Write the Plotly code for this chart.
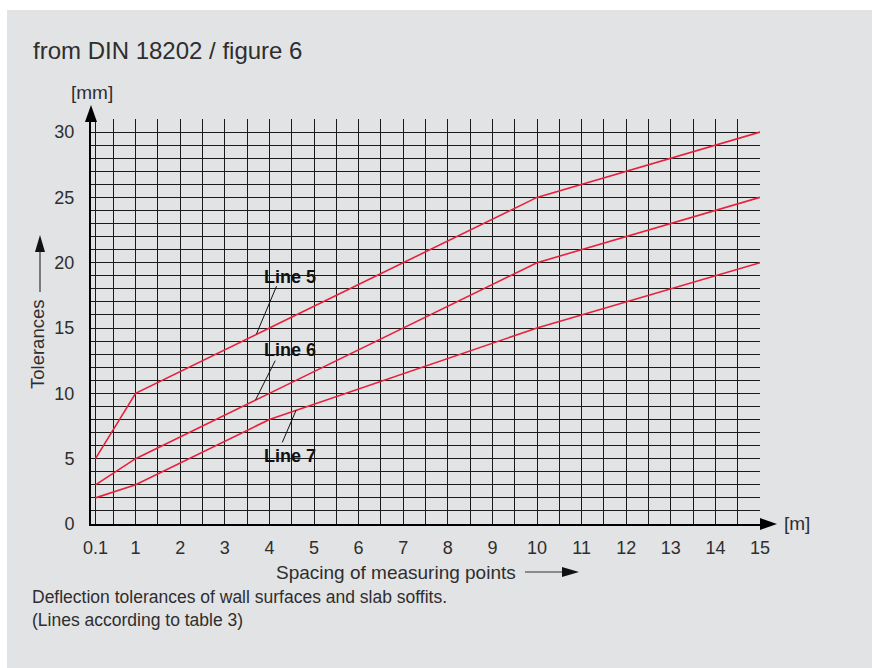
import plotly.graph_objects as go

# ---- data (DIN 18202, figure 6) ----
spacing_m = [0.1, 1, 4, 10, 15]
line5_mm = [5, 10, 15, 25, 30]
line6_mm = [3, 5, 10, 20, 25]
line7_mm = [2, 3, 8, 15, 20]
series_names = ["Line 5", "Line 6", "Line 7"]
x_tick_vals = [0.1, 1, 2, 3, 4, 5, 6, 7, 8, 9, 10, 11, 12, 13, 14, 15]
x_tick_text = ["0.1", "1", "2", "3", "4", "5", "6", "7", "8", "9", "10", "11", "12", "13", "14", "15"]
y_tick_vals = [0, 5, 10, 15, 20, 25, 30]

W, H = 872, 668
ML, MR, MT, MB = 91, 112, 119, 144
PW, PH = W - ML - MR, H - MT - MB
RED = "#e8203c"
GRID = "#1a1a1a"
BG = "#e2e3e5"
TXT = "#2e2e2e"
FONT = "Liberation Sans, Arial, sans-serif"


def px(xp):
    return (xp - ML) / PW


def py(yp):
    return 1 - (yp - MT) / PH


def tri(pts):
    return "M " + " L ".join(f"{px(a):.5f},{py(b):.5f}" for a, b in pts) + " Z"


fig = go.Figure()
for name, vals in zip(series_names, [line5_mm, line6_mm, line7_mm]):
    fig.add_trace(go.Scatter(x=spacing_m, y=vals, mode="lines", name=name,
                             line=dict(color=RED, width=1.6), hoverinfo="skip"))

head = dict(type="path", xref="paper", yref="paper", line=dict(width=0), layer="above")
shapes = [
    # white page border strips
    dict(type="rect", xref="paper", yref="paper", x0=px(0), x1=px(7), y0=py(H), y1=py(0),
         fillcolor="white", line=dict(width=0), layer="above"),
    dict(type="rect", xref="paper", yref="paper", x0=px(0), x1=px(W), y0=py(10), y1=py(0),
         fillcolor="white", line=dict(width=0), layer="above"),
    # y axis extension + arrowhead
    dict(type="line", xref="paper", yref="paper", x0=0, x1=0, y0=1, y1=py(112),
         line=dict(color="black", width=2)),
    dict(head, path=tri([(85, 122), (91, 105), (97, 122)]), fillcolor="black"),
    # x axis arrowhead
    dict(head, path=tri([(760, 518), (777, 524), (760, 530)]), fillcolor="black"),
    # axis-title arrows
    dict(type="line", xref="paper", yref="paper", x0=px(40), x1=px(40), y0=py(292), y1=py(250),
         line=dict(color="#333", width=1.2)),
    dict(head, path=tri([(35, 252), (40, 235), (45, 252)]), fillcolor="#111"),
    dict(type="line", xref="paper", yref="paper", x0=px(525), x1=px(564), y0=py(572), y1=py(572),
         line=dict(color="#333", width=1.2)),
    dict(head, path=tri([(562, 567), (579, 572), (562, 577)]), fillcolor="#111"),
    # leader lines for labels
    dict(type="line", x0=4.16, y0=18.2, x1=3.71, y1=14.55, line=dict(color="#111", width=1)),
    dict(type="line", x0=4.13, y0=12.5, x1=3.69, y1=9.5, line=dict(color="#111", width=1)),
    dict(type="line", x0=4.6, y0=8.72, x1=4.29, y1=6.25, line=dict(color="#111", width=1)),
]

annotations = [
    dict(text="from DIN 18202 / figure 6", xref="paper", yref="paper", x=px(31), y=py(50),
         xanchor="left", yanchor="middle", showarrow=False, font=dict(size=24, color=TXT, family=FONT)),
    dict(text="[mm]", xref="paper", yref="paper", x=px(69), y=py(92),
         xanchor="left", yanchor="middle", showarrow=False, font=dict(size=19, color=TXT, family=FONT)),
    dict(text="[m]", xref="paper", yref="paper", x=px(782), y=py(523),
         xanchor="left", yanchor="middle", showarrow=False, font=dict(size=19, color=TXT, family=FONT)),
    dict(text="Tolerances", xref="paper", yref="paper", x=px(37), y=py(345), textangle=-90,
         xanchor="center", yanchor="middle", showarrow=False, font=dict(size=18.5, color=TXT, family=FONT)),
    dict(text="Spacing of measuring points", xref="paper", yref="paper", x=px(518), y=py(572),
         xanchor="right", yanchor="middle", showarrow=False, font=dict(size=19, color=TXT, family=FONT)),
    dict(text="Deflection tolerances of wall surfaces and slab soffits.<br>(Lines according to table 3)",
         xref="paper", yref="paper", x=px(30), y=py(585), align="left",
         xanchor="left", yanchor="top", showarrow=False, font=dict(size=17.5, color=TXT, family=FONT)),
    dict(text="<b>Line 5</b>", x=4.47, y=18.9, showarrow=False,
         font=dict(size=18, color="#111", family=FONT)),
    dict(text="<b>Line 6</b>", x=4.47, y=13.3, showarrow=False,
         font=dict(size=18, color="#111", family=FONT)),
    dict(text="<b>Line 7</b>", x=4.47, y=5.2, showarrow=False,
         font=dict(size=18, color="#111", family=FONT)),
]

fig.update_layout(
    width=W, height=H, margin=dict(l=ML, r=MR, t=MT, b=MB, pad=0),
    paper_bgcolor=BG, plot_bgcolor=BG, showlegend=False,
    shapes=shapes, annotations=annotations,
    font=dict(family=FONT, color=TXT),
    xaxis=dict(range=[0, 15], tickmode="array", tickvals=x_tick_vals, ticktext=x_tick_text,
               showgrid=True, gridcolor=GRID, gridwidth=1,
               minor=dict(tick0=0, dtick=0.5, showgrid=True, gridcolor=GRID, gridwidth=1),
               showline=True, linecolor="black", linewidth=2, zeroline=False, ticks="",
               ticklabelstandoff=6, tickfont=dict(size=18, color=TXT), fixedrange=True),
    yaxis=dict(range=[0, 31], tickmode="array", tickvals=y_tick_vals,
               showgrid=True, gridcolor=GRID, gridwidth=1,
               minor=dict(tick0=0, dtick=1, showgrid=True, gridcolor=GRID, gridwidth=1),
               showline=True, linecolor="black", linewidth=2, zeroline=False, ticks="",
               ticklabelstandoff=11, tickfont=dict(size=18, color=TXT), fixedrange=True),
)

fig.write_html("out.html", config={"displayModeBar": False},
               post_script="document.documentElement.style.overflow='hidden';"
                           "document.documentElement.style.background='" + BG + "';"
                           "document.body.style.background='" + BG + "';"
                           "document.body.style.margin='0';document.body.style.overflow='hidden';")
